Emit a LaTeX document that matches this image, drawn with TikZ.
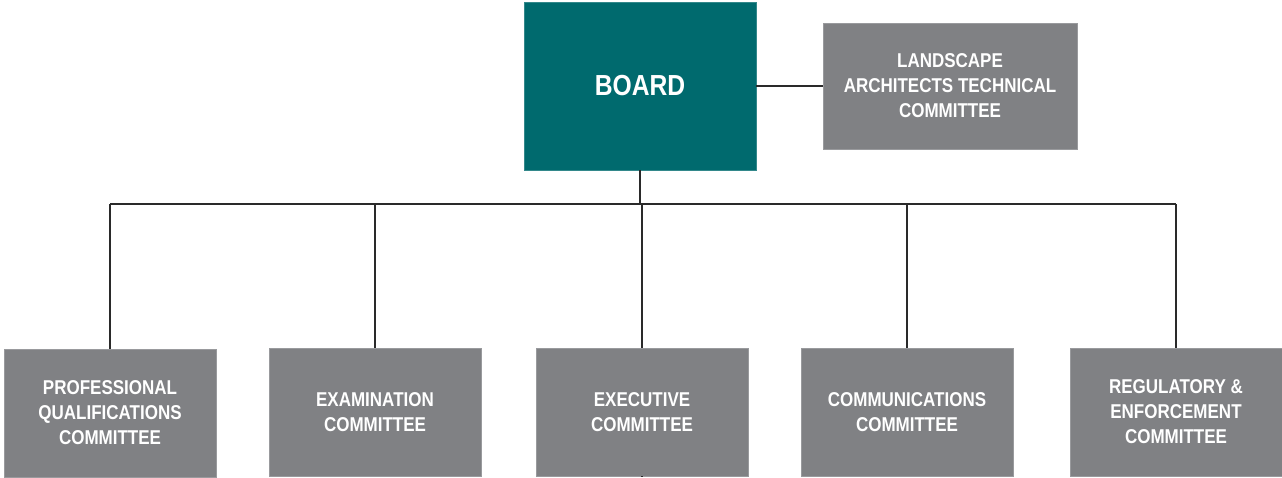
\documentclass[tikz,border=0pt]{standalone}
\usepackage{fontspec}
\newfontfamily\condfont{Liberation Sans}[FakeStretch=0.85]
\definecolor{boardteal}{HTML}{006A6E}
\definecolor{boxgray}{HTML}{808184}
\definecolor{linedark}{HTML}{2A2A2A}
\tikzset{
  orgbox/.style={fill=boxgray, draw=boxgray!80!white, line width=0.6pt, text=white, inner sep=0pt,
    minimum width=212pt, minimum height=128pt, align=center,
    font=\condfont\bfseries\fontsize{20}{25}\selectfont},
  boardbox/.style={fill=boardteal, draw=boardteal!80!white, line width=0.6pt, text=white, inner sep=0pt,
    minimum width=232pt, minimum height=168pt, align=center,
    font=\condfont\bfseries\fontsize{29}{34}\selectfont},
  link/.style={draw=linedark, line width=1.5pt}
}
\begin{document}
\begin{tikzpicture}[x=1pt,y=-1pt]
\useasboundingbox[fill=white] (0,0) rectangle (1282,477);
\node[boardbox] (board) at (640,86) {BOARD};
\node[orgbox, minimum width=254pt, minimum height=126pt] (land) at (950,86) {LANDSCAPE\\ARCHITECTS TECHNICAL\\COMMITTEE};
\node[orgbox] (prof) at (110,413) {PROFESSIONAL\\QUALIFICATIONS\\COMMITTEE};
\node[orgbox] (exam) at (375,412) {EXAMINATION\\COMMITTEE};
\node[orgbox] (exec) at (642,412) {EXECUTIVE\\COMMITTEE};
\node[orgbox] (comm) at (907,412) {COMMUNICATIONS\\COMMITTEE};
\node[orgbox] (reg) at (1176,412) {REGULATORY \&\\ENFORCEMENT\\COMMITTEE};
\coordinate (bus) at (640,204);
\coordinate (tail) at (642,477);
\draw[link] (board.east) -- (land.west);
\draw[link] (board.south) -- (bus);
\draw[link] (prof.north|-bus) -- (reg.north|-bus);
\foreach \n in {prof,exam,exec,comm,reg}{
  \draw[link] (\n.north) -- (\n.north|-bus);
}
\draw[link] (exec.south) -- (tail);
\end{tikzpicture}
\end{document}
